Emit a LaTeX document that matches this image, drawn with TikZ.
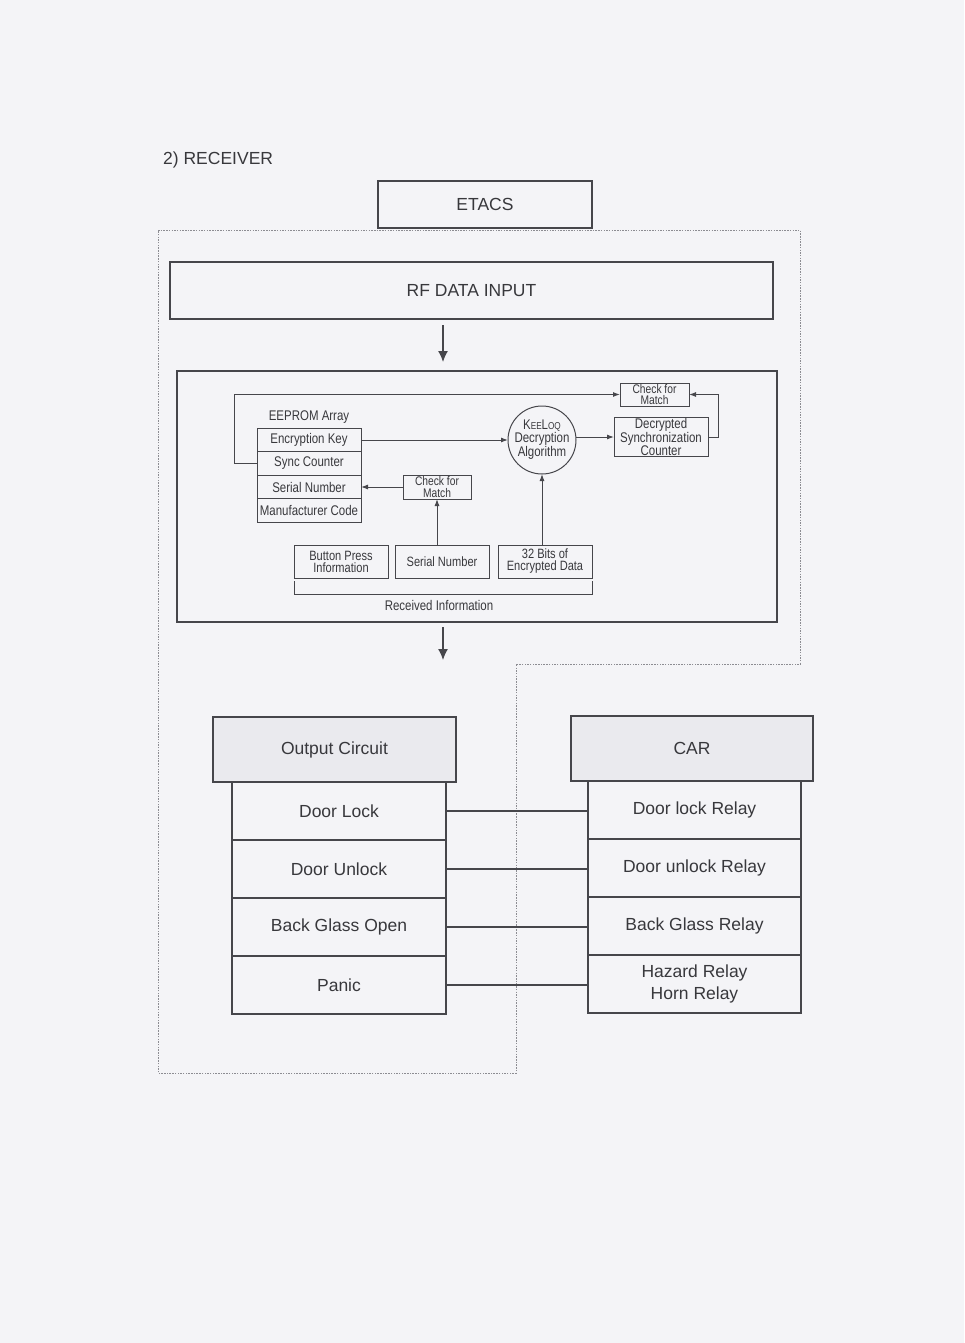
\documentclass[tikz,border=0pt]{standalone}
\usepackage{fontspec}
\setmainfont{Liberation Sans}
\newfontfamily\narrowsans[FakeStretch=0.82]{Liberation Sans}
\usetikzlibrary{arrows.meta,positioning}
\definecolor{paperFill}{HTML}{F4F4F7}
\definecolor{lineStroke}{HTML}{46464B}
\definecolor{textInk}{HTML}{38383C}
\definecolor{headFill}{HTML}{EAEAEE}
\definecolor{zoneStroke}{HTML}{8C8C92}

\begin{document}
\begin{tikzpicture}[x=1pt,y=-1pt,
  font=\fontsize{17.5}{22}\selectfont,text=textInk,
  block/.style={rectangle,draw=lineStroke,line width=1.2pt,outer sep=0pt,inner sep=0pt,align=center},
  header/.style={block,fill=headFill,minimum width=243pt,minimum height=65pt},
  cell/.style={block,minimum width=214pt,minimum height=58pt},
  panel/.style={rectangle,draw=lineStroke,line width=1.1pt,outer sep=0pt,inner sep=0pt},
  part/.style={rectangle,draw=lineStroke,line width=1pt,outer sep=0pt,inner sep=0pt,align=center,font=\narrowsans\fontsize{14}{11}\selectfont},
  memrow/.style={part,minimum width=104pt,minimum height=23.5pt},
  checkbox/.style={part,minimum width=68pt,minimum height=24pt,font=\narrowsans\fontsize{12.5}{11.5}\selectfont},
  rxbox/.style={part,minimum width=94pt,minimum height=33pt,font=\narrowsans\fontsize{13.5}{12}\selectfont},
  smalltext/.style={font=\narrowsans\fontsize{14}{11}\selectfont,inner sep=0pt},
  flow/.style={-{Latex[length=11pt,width=10pt]},line width=1.3pt,draw=lineStroke},
  sig/.style={-{Latex[length=7pt,width=5pt]},line width=1pt,draw=lineStroke},
  wire/.style={line width=1.1pt,draw=lineStroke},
  zone/.style={draw=zoneStroke,line width=0.9pt,dash pattern=on 1.5pt off 1.2pt}
]
\fill[paperFill] (0,0) rectangle (964,1343);
\useasboundingbox (0,0) rectangle (964,1343);
% Dotted outline marks the ETACS receiver; the CAR relays sit outside it.
\draw[zone] (158,230) -- (800,230) -- (800,664) -- (516,664) -- (516,1073) -- (158,1073) -- cycle;
\node[anchor=west,inner sep=0pt] (title) at (163,160) {2) RECEIVER};
\node[block,minimum width=214pt,minimum height=47pt] (etacs) at (485,204.5) {ETACS};
\node[block,minimum width=603pt,minimum height=57pt] (rfinput) at (471.5,290.5) {RF DATA INPUT};
\node[panel,minimum width=600pt,minimum height=251pt] (detail) at (477,496.5) {};
\coordinate (arrowx) at (443,0);
\draw[flow,shorten <=6pt,shorten >=9pt] (arrowx |- rfinput.south) -- (arrowx |- detail.north);
\node[memrow] (enckey) at (309,440) {Encryption Key};
\node[memrow,below=0pt of enckey] (synccnt) {Sync Counter};
\node[memrow,below=0pt of synccnt] (serialno) {Serial Number};
\node[memrow,below=0pt of serialno] (mfrcode) {Manufacturer Code};
\node[smalltext,above=5pt of enckey] (eeprom) {EEPROM Array};
\node[checkbox] (checklo) at (437,487) {Check for\\Match};
\node[checkbox,minimum width=69pt,minimum height=23pt] (checkhi) at (654.5,394.5) {Check for\\Match};
\node[part,circle,minimum size=68pt,font=\narrowsans\fontsize{14}{13}\selectfont] (keeloq) at (542,440)
 {K{\fontsize{10}{10}\selectfont EE}L{\fontsize{10}{10}\selectfont OQ}\\Decryption\\Algorithm};
\node[part,minimum width=94pt,minimum height=38pt,font=\narrowsans\fontsize{14}{12}\selectfont] (decsync) at (661,437)
 {Decrypted\\Synchronization\\Counter};
\node[rxbox] (btnpress) at (341,561.5) {Button Press\\Information};
\node[rxbox] (serialin) at (442,561.5) {Serial Number};
\node[rxbox] (bits32) at (545,561.5) {32 Bits of\\Encrypted Data};
\draw[line width=1pt,draw=lineStroke] ([yshift=-3pt]btnpress.south west) -- ++(0,13) -| ([yshift=-3pt]bits32.south east);
\node[smalltext] (recvinfo) at (439,605) {Received Information};
\draw[sig] (synccnt.west) -- ++(-23,0) |- (checkhi.west);
\draw[sig] (enckey.east) -- (enckey.east -| keeloq.west);
\draw[sig] (keeloq.east |- decsync.west) -- (decsync.west);
\draw[sig] (decsync.east) -- ++(10,0) |- (checkhi.east);
\draw[sig] (checklo.west) -- (checklo.west -| serialno.east);
\draw[sig] (serialin.north -| checklo.south) -- (checklo.south);
\draw[sig] (bits32.north -| keeloq.south) -- (keeloq.south);
\node[header] (outhead) at (334.5,749.5) {Output Circuit};
\node[cell] (doorlock) at (339,811) {Door Lock};
\node[cell,below=0pt of doorlock] (doorunlock) {Door Unlock};
\node[cell,below=0pt of doorunlock] (backglass) {Back Glass Open};
\node[cell,below=0pt of backglass] (panic) {Panic};
\draw[flow,shorten <=5pt,shorten >=57pt] (arrowx |- detail.south) -- (arrowx |- outhead.north);
\node[header,minimum width=242pt] (carhead) at (692,748.5) {CAR};
\node[cell,minimum width=213pt] (lockrelay) at (694.5,810) {Door lock Relay};
\node[cell,minimum width=213pt,below=0pt of lockrelay] (unlockrelay) {Door unlock Relay};
\node[cell,minimum width=213pt,below=0pt of unlockrelay] (glassrelay) {Back Glass Relay};
\node[cell,minimum width=213pt,below=0pt of glassrelay] (hazardrelay) {Hazard Relay\\Horn Relay};
\draw[wire] (doorlock.east) -- (doorlock.east -| lockrelay.west);
\draw[wire] (doorunlock.east) -- (doorunlock.east -| unlockrelay.west);
\draw[wire] (backglass.east) -- (backglass.east -| glassrelay.west);
\draw[wire] (panic.east) -- (panic.east -| hazardrelay.west);
\end{tikzpicture}
\end{document}
